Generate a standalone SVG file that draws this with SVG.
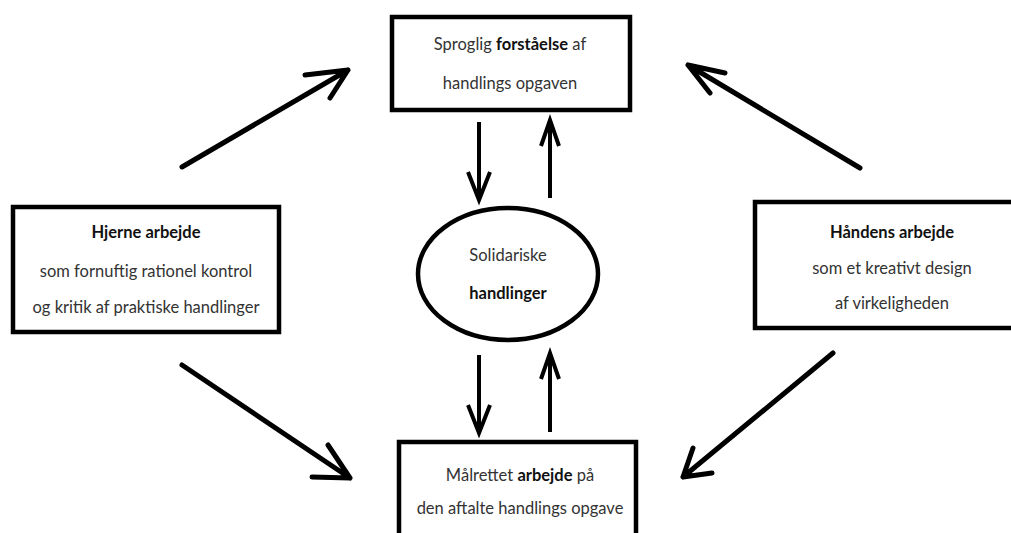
<svg xmlns="http://www.w3.org/2000/svg" width="1011" height="533" viewBox="0 0 1011 533">
  <style>
    .box { fill: #fff; stroke: #000; stroke-width: 4.5; }
    .lbl { font-family: "Lato", "Open Sans", "Liberation Sans", sans-serif; font-size: 16.5px; fill: #333; text-anchor: middle; }
    .b { font-weight: bold; fill: #111; }
    .arrow { fill: none; stroke: #000; stroke-width: 5; stroke-linecap: round; stroke-linejoin: round; }
    .varrow { fill: none; stroke: #000; stroke-width: 4; stroke-linecap: butt; stroke-linejoin: miter; }
  </style>
  <rect width="1011" height="533" fill="#fff"/>

  <g id="node-sproglig">
    <rect class="box" x="392" y="17" width="238" height="93"/>
    <text class="lbl" x="510" y="50">Sproglig <tspan class="b">forståelse</tspan> af</text>
    <text class="lbl" x="510" y="89">handlings opgaven</text>
  </g>

  <g id="node-hjerne">
    <rect class="box" x="13" y="207" width="266" height="125"/>
    <text class="lbl b" x="146" y="238">Hjerne arbejde</text>
    <text class="lbl" x="146" y="277">som fornuftig rationel kontrol</text>
    <text class="lbl" x="146" y="313">og kritik af praktiske handlinger</text>
  </g>

  <g id="node-haandens">
    <rect class="box" x="755" y="202" width="260" height="126"/>
    <text class="lbl b" x="892" y="238">Håndens arbejde</text>
    <text class="lbl" x="892" y="274">som et kreativt design</text>
    <text class="lbl" x="892" y="309">af virkeligheden</text>
  </g>

  <g id="node-solidariske">
    <ellipse class="box" cx="508" cy="274" rx="90" ry="66"/>
    <text class="lbl" x="508" y="261">Solidariske</text>
    <text class="lbl b" x="508" y="299">handlinger</text>
  </g>

  <g id="node-maalrettet">
    <rect class="box" x="399" y="442" width="237" height="100"/>
    <text class="lbl" x="520" y="481">Målrettet <tspan class="b">arbejde</tspan> på</text>
    <text class="lbl" x="520" y="514">den aftalte handlings opgave</text>
  </g>

  <g id="connectors">
    <!-- diagonal arrows from the side boxes -->
    <path class="arrow" d="M182,167 L348,70 M305,75 L348,70 L330,98"/>
    <path class="arrow" d="M182,365 L350,478 M312,477 L350,478 L328,445"/>
    <path class="arrow" d="M860,168 L688,65 M725,73 L688,65 L710,93"/>
    <path class="arrow" d="M833,353 L683,477 M693,448 L683,477 L712,473"/>
    <!-- vertical arrows around the ellipse -->
    <path class="varrow" d="M479,122 L479,198 M468,172 L479,200 L490,172"/>
    <path class="varrow" d="M550,198 L550,122 M541,146 L550,120 L559,146"/>
    <path class="varrow" d="M479,355 L479,431 M468,405 L479,433 L490,405"/>
    <path class="varrow" d="M550,432 L550,355 M541,379 L550,353 L559,379"/>
  </g>
</svg>
